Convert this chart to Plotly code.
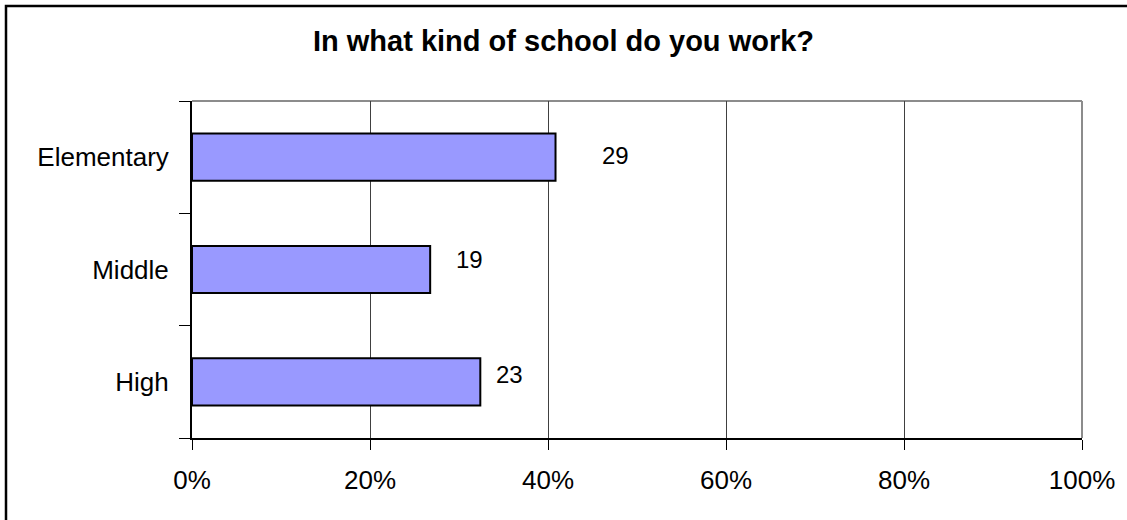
import plotly.graph_objects as go

# Survey responses: counts per school type
categories = ["Elementary", "Middle", "High"]
counts = [29, 19, 23]

# Bar length is each category's share of all responses
total = sum(counts)
shares = [c / total for c in counts]

# Label placement tweaks (pixels) for the count labels
label_xshift = [44, 24, 14]
label_yshift = [2, 10, 7]

W, H = 1127, 520
L, R, T, B = 192, 45, 101, 82
pw, ph = W - L - R, H - T - B


def px_x(px):
    return (px - L) / pw


def px_y(py):
    return (H - B - py) / ph


fig = go.Figure(
    go.Bar(
        x=shares,
        y=categories,
        orientation="h",
        width=0.42,
        marker=dict(color="#9999FF", line=dict(color="#000000", width=2)),
        hoverinfo="skip",
    )
)

for cat, share, n, dx, dy in zip(categories, shares, counts, label_xshift, label_yshift):
    fig.add_annotation(
        x=share, y=cat, text=str(n), showarrow=False,
        xanchor="left", yanchor="middle", xshift=dx, yshift=dy,
        font=dict(family="Liberation Sans, Arial", size=24, color="#000000"),
    )

# Grey top/right frame of the plot area
fig.add_shape(type="line", xref="paper", yref="paper", x0=0, x1=1, y0=1, y1=1,
              line=dict(color="#8c8c8c", width=2), layer="below")
fig.add_shape(type="line", xref="paper", yref="paper", x0=1, x1=1, y0=0, y1=1,
              line=dict(color="#8c8c8c", width=2), layer="below")

# Outer chart border
fig.add_shape(type="rect", xref="paper", yref="paper",
              x0=px_x(6), x1=px_x(1135), y0=px_y(6), y1=px_y(530),
              line=dict(color="#000000", width=2.5), fillcolor="rgba(0,0,0,0)")

fig.update_layout(
    width=W, height=H,
    margin=dict(l=L, r=R, t=T, b=B, pad=0),
    paper_bgcolor="#ffffff", plot_bgcolor="#ffffff",
    showlegend=False,
    font=dict(family="Liberation Sans, Arial", color="#000000"),
    title=dict(
        text="<b>In what kind of school do you work?</b>",
        x=0.5, xref="container", xanchor="center",
        y=1 - 41 / H, yref="container", yanchor="middle",
        font=dict(family="Liberation Sans, Arial", size=29, color="#000000"),
    ),
    xaxis=dict(
        range=[0, 1], tickmode="linear", tick0=0, dtick=0.2, tickformat=".0%",
        showgrid=True, gridcolor="#404040", gridwidth=1,
        showline=True, linecolor="#000000", linewidth=2,
        ticks="outside", ticklen=10, tickcolor="#000000", tickwidth=1,
        tickfont=dict(size=26), ticklabelstandoff=8,
        zeroline=False, fixedrange=True,
    ),
    yaxis=dict(
        categoryorder="array", categoryarray=categories[::-1],
        range=[-0.5, 2.5], tickson="boundaries",
        showgrid=False,
        showline=True, linecolor="#000000", linewidth=2,
        ticks="outside", ticklen=11, tickcolor="#000000", tickwidth=1,
        tickfont=dict(size=26), ticklabelstandoff=16,
        fixedrange=True,
    ),
)

fig.write_html("out.html")
